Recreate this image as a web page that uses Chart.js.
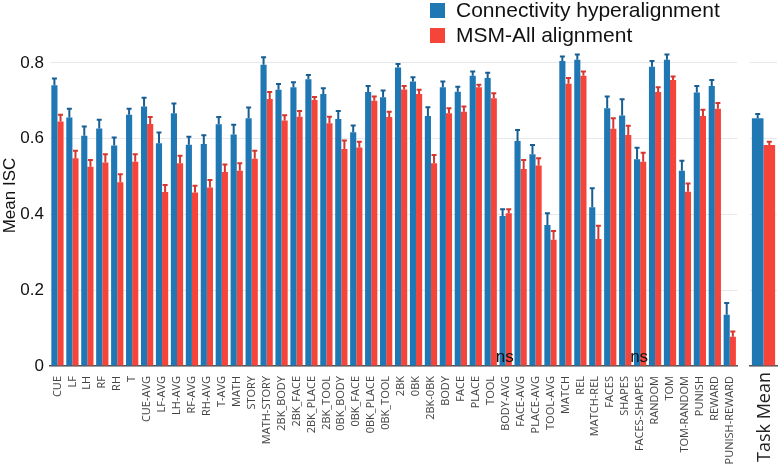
<!DOCTYPE html>
<html>
<head>
<meta charset="utf-8">
<script src="https://cdn.jsdelivr.net/npm/chart.js@4"></script>
<style>
  body { margin: 0; background: #fff; }
  #wrap { position: relative; width: 778px; height: 472px; }
  #mainBox { position: absolute; left: 0; top: 0; width: 745px; height: 472px; }
  #meanBox { position: absolute; left: 745px; top: 0; width: 33px; height: 472px; }
</style>
</head>
<body>
<div id="wrap">
  <div id="mainBox"><canvas id="mainChart"></canvas></div>
  <div id="meanBox"><canvas id="meanChart"></canvas></div>
</div>
<script>
const tasks = ["CUE", "LF", "LH", "RF", "RH", "T", "CUE-AVG", "LF-AVG", "LH-AVG", "RF-AVG", "RH-AVG", "T-AVG",
    "MATH", "STORY", "MATH-STORY", "2BK_BODY", "2BK_FACE", "2BK_PLACE", "2BK_TOOL", "0BK_BODY", "0BK_FACE",
    "0BK_PLACE", "0BK_TOOL", "2BK", "0BK", "2BK-0BK", "BODY", "FACE", "PLACE", "TOOL", "BODY-AVG", "FACE-AVG",
    "PLACE-AVG", "TOOL-AVG", "MATCH", "REL", "MATCH-REL", "FACES", "SHAPES", "FACES-SHAPES", "RANDOM", "TOM",
    "TOM-RANDOM", "PUNISH", "REWARD", "PUNISH-REWARD"];

// mean ISC per task
const hyperalign = [0.741, 0.656, 0.608, 0.627, 0.582, 0.663, 0.685, 0.588, 0.667, 0.584, 0.586, 0.638,
    0.611, 0.654, 0.795, 0.729, 0.736, 0.757, 0.718, 0.652, 0.617, 0.723, 0.709, 0.788, 0.751, 0.660,
    0.736, 0.724, 0.766, 0.760, 0.396, 0.594, 0.559, 0.372, 0.805, 0.808, 0.419, 0.680, 0.661, 0.546,
    0.790, 0.808, 0.515, 0.722, 0.739, 0.135];
const msmAll = [0.645, 0.548, 0.526, 0.537, 0.485, 0.539, 0.639, 0.459, 0.535, 0.458, 0.471, 0.512,
    0.515, 0.547, 0.705, 0.648, 0.658, 0.702, 0.641, 0.573, 0.577, 0.700, 0.657, 0.730, 0.718, 0.535,
    0.667, 0.671, 0.736, 0.707, 0.403, 0.520, 0.529, 0.333, 0.745, 0.766, 0.335, 0.626, 0.610, 0.539,
    0.723, 0.755, 0.460, 0.660, 0.679, 0.077];

// error bar sizes (upper half visible)
const hyperalignErr = [0.018, 0.023, 0.024, 0.023, 0.021, 0.016, 0.023, 0.028, 0.026, 0.021, 0.023, 0.019,
    0.026, 0.028, 0.020, 0.015, 0.013, 0.011, 0.015, 0.021, 0.018, 0.016, 0.018, 0.009, 0.011, 0.023,
    0.015, 0.013, 0.011, 0.014, 0.018, 0.029, 0.024, 0.031, 0.012, 0.014, 0.050, 0.031, 0.043, 0.030,
    0.015, 0.014, 0.027, 0.017, 0.016, 0.031];
const msmAllErr = [0.018, 0.020, 0.018, 0.022, 0.021, 0.020, 0.018, 0.019, 0.020, 0.018, 0.020, 0.020,
    0.020, 0.021, 0.018, 0.014, 0.015, 0.008, 0.017, 0.022, 0.015, 0.011, 0.014, 0.009, 0.011, 0.022,
    0.013, 0.014, 0.006, 0.013, 0.011, 0.024, 0.019, 0.023, 0.015, 0.011, 0.035, 0.028, 0.024, 0.024,
    0.013, 0.009, 0.022, 0.016, 0.015, 0.014];

const meanLabel = ["Task Mean"];
const meanHyper = [0.654];
const meanMsm = [0.583];
const meanHyperErr = [0.011];
const meanMsmErr = [0.009];

const nsTasks = ["BODY-AVG", "FACES-SHAPES"];
const yTicks = [0, 0.2, 0.4, 0.6, 0.8];

const BLUE = '#1f77b4';
const RED = '#f5443a';
const BLUE_DARK = '#165e93';
const RED_DARK = '#d8352c';

// draws the upper error bars with caps
const errorBars = {
    id: 'errorBars',
    afterDatasetsDraw(chart) {
        const ctx = chart.ctx;
        const y = chart.scales.y;
        chart.data.datasets.forEach((ds, i) => {
            const meta = chart.getDatasetMeta(i);
            ctx.save();
            ctx.strokeStyle = ds.errColor;
            ctx.lineWidth = 2;
            meta.data.forEach((bar, j) => {
                const top = y.getPixelForValue(ds.data[j] + ds.err[j]);
                const x = bar.x;
                ctx.beginPath();
                ctx.moveTo(x, bar.y);
                ctx.lineTo(x, top);
                ctx.moveTo(x - 2.5, top);
                ctx.lineTo(x + 2.5, top);
                ctx.stroke();
            });
            ctx.restore();
        });
    }
};

// "ns" marks and legend drawn on the main chart
const annotations = {
    id: 'annotations',
    afterDraw(chart) {
        const ctx = chart.ctx;
        const x = chart.scales.x;
        ctx.save();
        ctx.fillStyle = '#111';
        ctx.font = '17px "Liberation Sans", Arial, sans-serif';
        ctx.textAlign = 'center';
        ctx.textBaseline = 'alphabetic';
        nsTasks.forEach(t => {
            const px = x.getPixelForValue(tasks.indexOf(t));
            ctx.fillText('ns', px - 1, 362);
        });

        const items = [['Connectivity hyperalignment', BLUE], ['MSM-All alignment', RED]];
        ctx.font = '21px "Liberation Sans", Arial, sans-serif';
        ctx.textAlign = 'left';
        ctx.textBaseline = 'middle';
        items.forEach((it, k) => {
            const cy = 11 + k * 25;
            ctx.fillStyle = it[1];
            ctx.fillRect(430, cy - 8, 15, 15);
            ctx.fillStyle = '#111';
            ctx.fillText(it[0], 456, cy);
        });
        ctx.restore();
    }
};

// rotated "Task Mean" label under the small panel
const meanTitle = {
    id: 'meanTitle',
    afterDraw(chart) {
        const ctx = chart.ctx;
        const x = chart.scales.x.getPixelForValue(0);
        ctx.save();
        ctx.translate(x + 1, chart.chartArea.bottom + 6);
        ctx.rotate(-Math.PI / 2);
        ctx.fillStyle = '#222';
        ctx.font = '18px "Open Sans", sans-serif';
        ctx.textAlign = 'right';
        ctx.textBaseline = 'middle';
        ctx.fillText(meanLabel[0], 0, 0);
        ctx.restore();
    }
};

const gridColor = '#e6e8ec';

new Chart(document.getElementById('mainChart'), {
    type: 'bar',
    data: {
        labels: tasks,
        datasets: [
            { label: 'Connectivity hyperalignment', data: hyperalign, err: hyperalignErr, errColor: BLUE_DARK, backgroundColor: BLUE },
            { label: 'MSM-All alignment', data: msmAll, err: msmAllErr, errColor: RED_DARK, backgroundColor: RED }
        ]
    },
    options: {
        responsive: true,
        maintainAspectRatio: false,
        animation: false,
        layout: { padding: { top: 25, right: 3, left: 0, bottom: 0 } },
        datasets: { bar: { categoryPercentage: 0.82, barPercentage: 1.0 } },
        plugins: { legend: { display: false }, tooltip: { enabled: false } },
        scales: {
            x: {
                grid: { display: false },
                border: { display: true, color: '#555', width: 1.5 },
                ticks: {
                    autoSkip: false, maxRotation: 90, minRotation: 90,
                    color: '#444', padding: 2,
                    font: { family: '"Open Sans", sans-serif', size: 11 }
                },
                afterFit(scale) { scale.height = 106; }
            },
            y: {
                min: 0, max: 0.9,
                afterBuildTicks(scale) { scale.ticks = yTicks.map(v => ({ value: v })); },
                grid: { color: gridColor, drawTicks: false },
                border: { display: false },
                ticks: {
                    color: '#111', padding: 6,
                    font: { family: '"Liberation Sans", Arial, sans-serif', size: 17 },
                    callback: v => v === 0 ? '0' : v.toFixed(1)
                },
                title: {
                    display: true, text: 'Mean ISC', color: '#111', padding: 0,
                    font: { family: '"Liberation Sans", Arial, sans-serif', size: 17 }
                },
                afterFit(scale) { scale.width = 50; }
            }
        }
    },
    plugins: [errorBars, annotations]
});

new Chart(document.getElementById('meanChart'), {
    type: 'bar',
    data: {
        labels: meanLabel,
        datasets: [
            { data: meanHyper, err: meanHyperErr, errColor: BLUE_DARK, backgroundColor: BLUE },
            { data: meanMsm, err: meanMsmErr, errColor: RED_DARK, backgroundColor: RED }
        ]
    },
    options: {
        responsive: true,
        maintainAspectRatio: false,
        animation: false,
        layout: { padding: { top: 25, right: 1, left: 5, bottom: 0 } },
        datasets: { bar: { categoryPercentage: 0.86, barPercentage: 1.0 } },
        plugins: { legend: { display: false }, tooltip: { enabled: false } },
        scales: {
            x: {
                grid: { display: false },
                border: { display: true, color: '#555', width: 1.5 },
                ticks: { display: false },
                afterFit(scale) { scale.height = 106; scale.paddingLeft = 0; scale.paddingRight = 0; }
            },
            y: {
                display: true,
                min: 0, max: 0.9,
                afterBuildTicks(scale) { scale.ticks = yTicks.map(v => ({ value: v })); },
                grid: { color: gridColor, drawTicks: false },
                border: { display: false },
                ticks: { display: false },
                afterFit(scale) { scale.width = 0; }
            }
        }
    },
    plugins: [errorBars, meanTitle]
});
</script>
</body>
</html>
